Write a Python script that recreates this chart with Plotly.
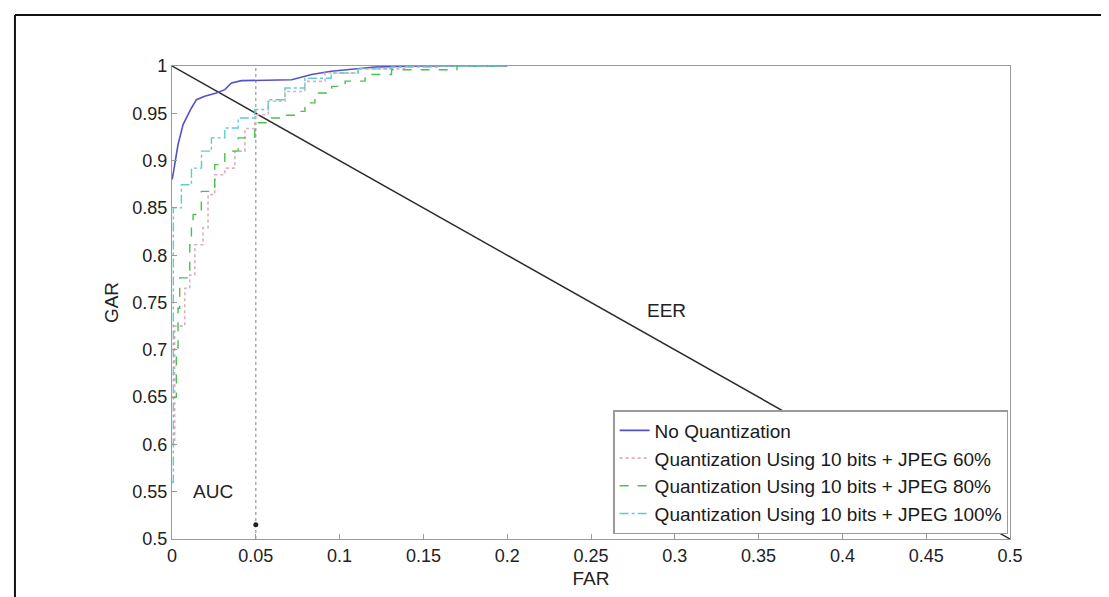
import plotly.graph_objects as go

# ---- data ----
far_noq = [0.0, 0.0006, 0.0036, 0.0066, 0.0116, 0.0146, 0.0195, 0.0265, 0.0315, 0.0355, 0.0415, 0.0714, 0.0833, 0.095, 0.121, 0.15, 0.2]
gar_noq = [0.88, 0.885, 0.917, 0.938, 0.9556, 0.9644, 0.968, 0.9715, 0.975, 0.982, 0.9845, 0.9855, 0.991, 0.9944, 0.999, 1.0, 1.0]

far_j60 = [0.0, 0.0016, 0.0066, 0.0076, 0.0106, 0.0136, 0.0185, 0.0215, 0.0255, 0.0315, 0.0375, 0.0435, 0.0494, 0.0574, 0.0674, 0.0793, 0.0913, 0.111, 0.14, 0.2]
gar_j60 = [0.6, 0.725, 0.725, 0.765, 0.779, 0.811, 0.829, 0.864, 0.885, 0.892, 0.91, 0.934, 0.9485, 0.9627, 0.973, 0.9838, 0.9926, 0.997, 1.0, 1.0]

far_j80 = [0.0, 0.0026, 0.0036, 0.0046, 0.0096, 0.0106, 0.0116, 0.0126, 0.0175, 0.0255, 0.0315, 0.0395, 0.0494, 0.0574, 0.0674, 0.0754, 0.0793, 0.0853, 0.0953, 0.1033, 0.1152, 0.131, 0.17, 0.2]
gar_j80 = [0.65, 0.702, 0.744, 0.776, 0.783, 0.811, 0.83, 0.843, 0.8675, 0.8957, 0.91, 0.924, 0.94, 0.945, 0.948, 0.952, 0.961, 0.9715, 0.9785, 0.984, 0.991, 0.996, 1.0, 1.0]

far_j100 = [0.0, 0.0008, 0.0056, 0.0116, 0.0176, 0.0235, 0.0315, 0.0395, 0.0494, 0.0574, 0.0674, 0.0793, 0.095, 0.111, 0.131, 0.16, 0.2]
gar_j100 = [0.56, 0.85, 0.8745, 0.892, 0.91, 0.924, 0.9345, 0.945, 0.954, 0.9644, 0.9767, 0.987, 0.9926, 0.997, 0.999, 1.0, 1.0]

series_names = ["No Quantization",
                "Quantization Using 10 bits + JPEG 60%",
                "Quantization Using 10 bits + JPEG 80%",
                "Quantization Using 10 bits + JPEG 100%"]

eer_far = [0.0, 0.5]
eer_gar = [1.0, 0.5]
threshold_far = 0.05
auc_marker_gar = 0.515

x_ticks = [0, 0.05, 0.1, 0.15, 0.2, 0.25, 0.3, 0.35, 0.4, 0.45, 0.5]
x_labels = ["0", "0.05", "0.1", "0.15", "0.2", "0.25", "0.3", "0.35", "0.4", "0.45", "0.5"]
y_ticks = [0.5, 0.55, 0.6, 0.65, 0.7, 0.75, 0.8, 0.85, 0.9, 0.95, 1.0]
y_labels = ["0.5", "0.55", "0.6", "0.65", "0.7", "0.75", "0.8", "0.85", "0.9", "0.95", "1"]

FONT = "Liberation Sans, Arial, sans-serif"
TXT = "#222222"

fig = go.Figure()

styles = [
    dict(color="#5652c4", width=1.6, dash="solid"),
    dict(color="#d9b0bc", width=1.6, dash="dot"),
    dict(color="#4cbf50", width=1.4, dash="dash"),
    dict(color="#62cccc", width=1.4, dash="dashdot"),
]
data = [(far_noq, gar_noq), (far_j60, gar_j60), (far_j80, gar_j80), (far_j100, gar_j100)]

# EER diagonal and threshold line
fig.add_trace(go.Scatter(x=eer_far, y=eer_gar, mode="lines",
                         line=dict(color="#2a2a2a", width=1.5), showlegend=False, hoverinfo="skip"))
fig.add_trace(go.Scatter(x=[threshold_far, threshold_far], y=[0.5, 1.0], mode="lines",
                         line=dict(color="#a0a0a0", width=1.3, dash="dot"), showlegend=False, hoverinfo="skip"))
fig.add_trace(go.Scatter(x=[threshold_far], y=[auc_marker_gar], mode="markers",
                         marker=dict(color="#222", size=5), showlegend=False, hoverinfo="skip"))

for i, ((fx, gy), st, nm) in enumerate(zip(data, styles, series_names)):
    fig.add_trace(go.Scatter(x=fx, y=gy, mode="lines", name=nm, line=st,
                             line_shape="hv" if i != 0 else "linear", legendgroup=f"g{i}"))

fig.add_annotation(x=0.0245, y=0.55, text="AUC", showarrow=False, xref="x", yref="y",
                   font=dict(family=FONT, size=19, color=TXT))
fig.add_annotation(x=0.295, y=0.742, text="EER", showarrow=False, xref="x", yref="y",
                   font=dict(family=FONT, size=19, color=TXT))

# page frame lines (scanned figure border)
fig.add_shape(type="line", xref="paper", yref="paper", x0=-0.1874, x1=1.13, y0=1.1078, y1=1.1078,
              line=dict(color="#111", width=2))
fig.add_shape(type="line", xref="paper", yref="paper", x0=-0.1874, x1=-0.1874, y0=1.1078, y1=-0.15,
              line=dict(color="#111", width=2))

axis_common = dict(showline=True, mirror=True, linecolor="#9a9a9a", linewidth=1.3,
                   ticks="inside", ticklen=5, tickcolor="#9a9a9a", showgrid=False, zeroline=False,
                   tickfont=dict(family=FONT, size=18, color=TXT))

fig.update_layout(
    width=1109, height=597,
    margin=dict(l=164, r=107, t=58, b=66),
    paper_bgcolor="white", plot_bgcolor="white",
    xaxis=dict(range=[0, 0.5], tickvals=x_ticks, ticktext=x_labels,
               title=dict(text="FAR", font=dict(family=FONT, size=19, color=TXT), standoff=6),
               **axis_common),
    yaxis=dict(range=[0.5, 1.0], tickvals=y_ticks, ticktext=y_labels,
               title=dict(text="GAR", font=dict(family=FONT, size=19, color=TXT), standoff=8),
               **axis_common),
    legend=dict(x=0.998, y=0.01, xanchor="right", yanchor="bottom",
                bgcolor="white", bordercolor="#9a9a9a", borderwidth=1.3,
                font=dict(family=FONT, size=19, color="#1a1a1a"),
                tracegroupgap=0, itemwidth=30),
    showlegend=True,
)

fig.write_html("out.html")
